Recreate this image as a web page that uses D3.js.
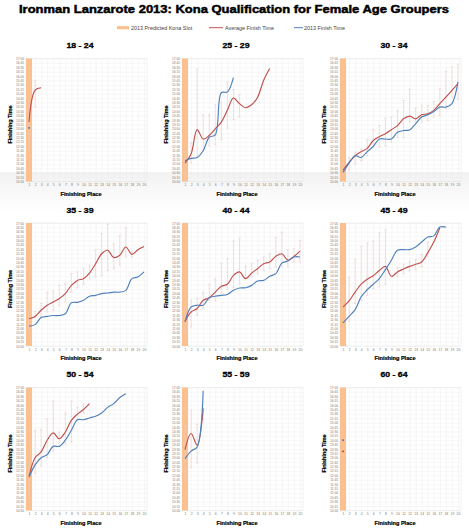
<!DOCTYPE html>
<html>
<head>
<meta charset="utf-8">
<script src="https://cdn.jsdelivr.net/npm/d3@7"></script>
<style>
body { margin: 0; background: #fff; }
text { font-family: "Liberation Sans", Arial, sans-serif; }
</style>
</head>
<body>
<svg id="chart" width="469" height="530"></svg>
<script>
// Finishing times (hh:mm), one array per place 1..n
const ageGroups = ["18 - 24", "25 - 29", "30 - 34", "35 - 39", "40 - 44", "45 - 49", "50 - 54", "55 - 59", "60 - 64"];
const kitaPlaces = [1, 1, 1, 1, 1, 1, 1, 1, 1];

const avg1824 = ["13:23", "15:12", "15:20"];
const fin1824 = ["13:03"];
const hi1824 = ["14:20", "15:46"];
const lo1824 = ["11:51", "14:14"];

const avg2529 = ["11:03", "11:34", "12:57", "12:25", "12:37", "13:00", "13:23", "14:03", "14:45", "14:26", "14:12", "14:22", "14:48", "15:46", "16:26"];
const fin2529 = ["11:11", "11:19", "11:22", "11:45", "12:31", "12:39", "15:03", "15:06", "15:55"];
const hi2529 = ["11:45", "12:12", "16:23", "13:48", "13:48", "14:22", "14:31", "15:40", "15:14", "14:56"];
const lo2529 = ["10:02", "11:03", "11:22", "11:45", "12:02", "12:05", "12:23", "13:02", "13:32", "13:40"];

const avg3034 = ["10:39", "11:05", "11:28", "11:42", "11:53", "12:20", "12:33", "12:43", "12:57", "13:11", "13:34", "13:43", "13:34", "13:48", "13:51", "14:03", "14:26", "14:48", "15:11", "15:34"];
const fin3034 = ["10:31", "11:03", "11:28", "11:22", "11:42", "12:00", "12:25", "12:25", "12:25", "12:48", "12:54", "12:56", "13:17", "13:40", "13:48", "13:59", "14:14", "14:14", "14:26", "15:40"];
const hi3034 = ["11:05", "11:22", "11:40", "11:51", "12:22", "12:57", "13:11", "13:36", "13:40", "14:03", "14:37", "15:15", "14:11", "14:20", "14:20", "14:34", "15:17", "16:16", "16:31", "16:39"];
const lo3034 = ["10:25", "10:39", "11:00", "11:11", "11:28", "11:57", "11:57", "12:02", "12:14", "12:31", "12:31", "13:23", "13:23", "13:23", "13:28", "13:40", "13:45", "14:08", "14:48", "14:39"];

const avg3539 = ["11:33", "11:41", "12:02", "12:19", "12:30", "12:42", "12:59", "13:27", "13:44", "13:50", "14:09", "14:41", "15:15", "15:27", "15:02", "15:10", "15:38", "15:13", "15:29", "15:40"];
const fin3539 = ["11:08", "11:13", "11:37", "11:41", "11:44", "11:44", "11:50", "12:28", "12:29", "12:36", "12:50", "12:53", "12:59", "13:01", "13:04", "13:04", "13:10", "13:50", "13:56", "14:13"];
const hi3539 = ["12:00", "11:59", "12:25", "13:04", "13:08", "13:27", "13:33", "14:07", "14:13", "14:24", "14:36", "15:29", "16:24", "16:56", "15:49", "16:18", "16:44", "15:21"];
const lo3539 = ["10:57", "11:37", "11:41", "11:56", "12:02", "12:19", "12:30", "13:04", "13:19", "13:31", "13:50", "13:56", "14:01", "14:18", "14:24", "14:36", "15:04", "15:04"];

const avg4044 = ["11:25", "11:56", "12:08", "12:36", "12:45", "13:04", "13:24", "13:31", "14:01", "14:13", "13:50", "14:09", "14:24", "14:41", "14:47", "15:06", "15:15", "14:53", "15:06", "15:24"];
const fin4044 = ["11:22", "12:13", "12:19", "12:19", "12:45", "12:50", "12:53", "12:56", "13:10", "13:18", "13:19", "13:27", "13:42", "13:44", "13:58", "14:07", "14:43", "14:50", "15:04", "15:04"];
const hi4044 = ["12:11", "12:36", "12:42", "13:04", "13:31", "13:50", "14:41", "14:58", "15:59", "16:07", "14:32", "14:41", "14:53", "15:04", "15:15", "16:10", "16:29", "15:29", "15:32", "16:01"];
const lo4044 = ["10:48", "11:05", "11:45", "12:08", "12:36", "12:34", "13:01", "13:12", "13:19", "13:31", "13:50", "13:56", "14:07", "14:18", "14:24", "14:30", "14:32", "14:30", "14:47", "14:47"];

const avg4549 = ["12:13", "12:34", "13:04", "13:31", "13:48", "14:00", "14:18", "14:32", "13:58", "14:13", "14:23", "14:32", "14:39", "14:47", "15:18", "15:55", "16:44"];
const fin4549 = ["11:19", "11:41", "12:04", "12:48", "13:12", "13:31", "13:50", "14:21", "14:53", "15:27", "15:29", "15:29", "15:38", "15:55", "16:12", "16:16", "16:46", "16:46"];
const hi4549 = ["13:24", "13:53", "14:55", "15:40", "15:52", "15:59", "16:26", "16:37", null, "14:27", "14:39", "14:50", "14:55", "15:13", "15:55"];
const lo4549 = ["12:05", "11:25", "12:25", "12:36", "12:53", "13:16", "13:22", "13:31", null, "13:58", "14:07", "14:16", "14:21", "14:30", "15:06"];

const avg5054 = ["11:56", "13:00", "13:20", "14:00", "14:25", "14:05", "14:28", "15:08", "15:29", "15:45", "16:05"];
const fin5054 = ["11:54", "12:36", "13:00", "13:11", "13:39", "13:39", "14:00", "14:34", "15:10", "15:10", "15:16", "15:22", "15:33", "15:52", "16:05", "16:26", "16:39"];
const hi5054 = ["12:48", "14:34", "14:36", "15:14", "16:14", "14:28", "15:33", "16:14", "15:52", "16:03"];
const lo5054 = ["10:51", "12:06", "12:32", "13:00", "13:23", "13:51", "13:48", "13:54", "15:08", "15:33"];

const avg5559 = ["13:28", "14:23", "13:43", "15:48"];
const fin5559 = ["12:57", "13:23", "13:37", "16:49"];
const hi5559 = ["14:48", "15:43", "14:55", "15:48"];
const lo5559 = ["11:43", "12:26", "12:42", "15:10"];

const avg6064 = ["13:22"];
const fin6064 = ["14:00"];
const hi6064 = [];
const lo6064 = [];

const yTicks = d3.range(600, 1021, 15); // 10:00 .. 17:00 every 15 min
const xTicks = d3.range(1, 21);

const legendItems = ["2013 Predicted Kona Slot", "Average Finish Time", "2013 Finish Time"];

const series = [
    [avg1824, fin1824, hi1824, lo1824],
    [avg2529, fin2529, hi2529, lo2529],
    [avg3034, fin3034, hi3034, lo3034],
    [avg3539, fin3539, hi3539, lo3539],
    [avg4044, fin4044, hi4044, lo4044],
    [avg4549, fin4549, hi4549, lo4549],
    [avg5054, fin5054, hi5054, lo5054],
    [avg5559, fin5559, hi5559, lo5559],
    [avg6064, fin6064, hi6064, lo6064]
];

const toMin = s => s == null ? null : +s.split(":")[0] * 60 + +s.split(":")[1];
const fmt = d => `${Math.floor(d / 60)}:${String(d % 60).padStart(2, "0")}`;

const RED = "#c0504d", BLUE = "#4f81bd", ORANGE = "#fac090", PINK = "#eccaca";

const svg = d3.select("svg#chart");

// faint shade under the first row
const grad = svg.append("defs").append("linearGradient")
    .attr("id", "shade").attr("x1", 0).attr("y1", 0).attr("x2", 0).attr("y2", 1);
grad.append("stop").attr("offset", 0).attr("stop-color", "#f2f2f2");
grad.append("stop").attr("offset", 1).attr("stop-color", "#ffffff");
svg.append("rect").attr("x", 0).attr("y", 172).attr("width", 469).attr("height", 40)
    .attr("fill", "url(#shade)");

// title
svg.append("text")
    .attr("x", 234).attr("y", 13)
    .attr("text-anchor", "middle")
    .attr("textLength", 430).attr("lengthAdjust", "spacingAndGlyphs")
    .style("font-size", "11px").style("font-weight", "bold")
    .style("stroke", "#000").style("stroke-width", 0.45)
    .text("Ironman Lanzarote 2013: Kona Qualification for Female Age Groupers");

// legend
const legend = svg.append("g").attr("transform", "translate(0,27.7)");
legend.append("rect").attr("x", 117).attr("y", -1.6).attr("width", 12).attr("height", 3.2).attr("fill", ORANGE);
legend.append("line").attr("x1", 209).attr("x2", 223).attr("stroke", RED).attr("stroke-width", 1);
legend.append("line").attr("x1", 294).attr("x2", 303).attr("stroke", BLUE).attr("stroke-width", 1);
legend.selectAll("text")
    .data(legendItems)
    .enter().append("text")
    .attr("x", (d, i) => [131, 225, 304][i])
    .attr("y", 1.9)
    .style("font-size", "5.4px").style("fill", "#444")
    .text(d => d);

// panel geometry
const colLeft = [26, 182, 340];
const rowTop = [58.5, 223, 387.5];
const pw = 121, ph = 123;

const Panel = (i) => {
    const left = colLeft[i % 3], top = rowTop[Math.floor(i / 3)];
    const [avg, fin, hi, lo] = series[i].map(a => a.map(toMin));

    const x = d3.scaleLinear().domain([0.5, 20.5]).range([left, left + pw]);
    const y = d3.scaleLinear().domain([600, 1020]).range([top + ph, top]);

    const g = svg.append("g");

    // grid
    g.append("g")
        .attr("transform", `translate(${left},0)`)
        .call(d3.axisLeft(y).tickValues(yTicks).tickSize(-pw).tickFormat(""))
        .call(a => a.select(".domain").remove())
        .call(a => a.selectAll("line").attr("stroke", "#ececec").attr("stroke-width", 0.4));
    g.append("g")
        .attr("transform", `translate(0,${top + ph})`)
        .call(d3.axisBottom(x).tickValues(xTicks).tickSize(-ph).tickFormat(""))
        .call(a => a.select(".domain").remove())
        .call(a => a.selectAll("line").attr("stroke", "#ececec").attr("stroke-width", 0.4));
    g.append("rect")
        .attr("x", left).attr("y", top).attr("width", pw).attr("height", ph)
        .attr("fill", "none").attr("stroke", "#e4e4e4").attr("stroke-width", 0.5);

    // predicted Kona slot band
    g.append("rect")
        .attr("x", x(0.5)).attr("y", top)
        .attr("width", x(kitaPlaces[i] + 0.5) - x(0.5)).attr("height", ph)
        .attr("fill", ORANGE);

    // tick labels
    g.append("g")
        .attr("transform", `translate(${left},0)`)
        .call(d3.axisLeft(y).tickValues(yTicks).tickSize(0).tickPadding(2).tickFormat(fmt))
        .call(a => a.select(".domain").remove())
        .call(a => a.selectAll("text").style("font-size", "3.2px").style("fill", "#777").style("font-family", "Liberation Sans"));
    g.append("g")
        .attr("transform", `translate(0,${top + ph})`)
        .call(d3.axisBottom(x).tickValues(xTicks).tickSize(0).tickPadding(2.5))
        .call(a => a.select(".domain").remove())
        .call(a => a.selectAll("text").style("font-size", "3.4px").style("fill", "#777").style("font-family", "Liberation Sans"));

    // range bars
    const bars = hi.map((h, k) => ({p: k + 1, hi: h, lo: lo[k]})).filter(d => d.hi != null);
    const eb = g.append("g").attr("stroke", PINK).attr("stroke-width", 0.6);
    eb.selectAll("line.v").data(bars).enter().append("line")
        .attr("x1", d => x(d.p)).attr("x2", d => x(d.p))
        .attr("y1", d => y(d.hi)).attr("y2", d => y(d.lo));
    ["hi", "lo"].forEach(key => {
        eb.selectAll("line." + key).data(bars).enter().append("line")
            .attr("class", key)
            .attr("x1", d => x(d.p) - 1.2).attr("x2", d => x(d.p) + 1.2)
            .attr("y1", d => y(d[key])).attr("y2", d => y(d[key]));
    });

    // lines
    const line = d3.line()
        .x((d, k) => x(k + 1))
        .y(d => y(d))
        .curve(d3.curveCatmullRom.alpha(0.5));
    [[avg, RED], [fin, BLUE]].forEach(([vals, color]) => {
        if (vals.length > 1) {
            g.append("path")
                .attr("d", line(vals))
                .attr("fill", "none").attr("stroke", color).attr("stroke-width", 1.15);
        } else {
            g.append("rect")
                .attr("x", x(1) - 0.9).attr("y", y(vals[0]) - 0.9)
                .attr("width", 1.8).attr("height", 1.8)
                .attr("fill", color);
        }
    });

    // titles
    g.append("text")
        .attr("x", left + 54).attr("y", top - 10.5)
        .attr("text-anchor", "middle")
        .attr("textLength", 27).attr("lengthAdjust", "spacingAndGlyphs")
        .style("font-size", "7px").style("font-weight", "bold")
        .style("stroke", "#000").style("stroke-width", 0.3)
        .text(ageGroups[i]);
    g.append("text")
        .attr("x", left + 55).attr("y", top + ph + 14)
        .attr("text-anchor", "middle")
        .attr("textLength", 41).attr("lengthAdjust", "spacingAndGlyphs")
        .style("font-size", "5.2px").style("font-weight", "bold")
        .style("stroke", "#000").style("stroke-width", 0.2)
        .text("Finishing Place");
    g.append("text")
        .attr("transform", `translate(${left - 14.5},${top + 66}) rotate(-90)`)
        .attr("text-anchor", "middle")
        .attr("textLength", 38).attr("lengthAdjust", "spacingAndGlyphs")
        .style("font-size", "5.2px").style("font-weight", "bold")
        .style("stroke", "#000").style("stroke-width", 0.2)
        .text("Finishing Time");
};

ageGroups.forEach((d, i) => Panel(i));
</script>
</body>
</html>
